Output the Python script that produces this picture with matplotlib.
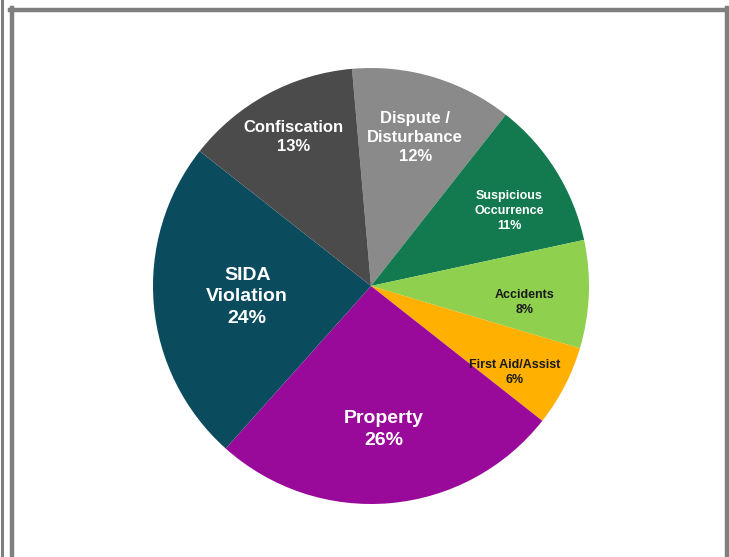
import numpy as np
import matplotlib.pyplot as plt
from matplotlib.lines import Line2D

plt.rcParams['font.family'] = ['Liberation Sans', 'DejaVu Sans']

categories = ["Dispute /\nDisturbance", "Suspicious\nOccurrence", "Accidents",
              "First Aid/Assist", "Property", "SIDA\nViolation", "Confiscation"]
shares = [12, 11, 8, 6, 26, 24, 13]
colors = ["#8a8a8a", "#127a4e", "#8fd14f", "#ffb000", "#990a9b", "#0a4b5e", "#4b4b4b"]
text_colors = ["white", "white", "#1a1a1a", "#1a1a1a", "white", "white", "white"]
font_sizes = [12, 9, 9, 9, 14, 14, 12]
label_dist = [0.71, 0.72, 0.71, 0.77, 0.66, 0.57, 0.77]
label_shift = [0, 3.5, 4, 3.5, 0, 0, 1]   # degrees, clockwise

W, H = 729, 557
fig = plt.figure(figsize=(W / 100, H / 100), dpi=100)
ax = fig.add_axes([0, 0, 1, 1])

cx, cy, R = 371, H - 286, 218
wedges, _ = ax.pie(shares, colors=colors, startangle=95, counterclock=False,
                   center=(cx, cy), radius=R, frame=True,
                   wedgeprops=dict(linewidth=0))
ax.set_xlim(0, W)
ax.set_ylim(0, H)
ax.set_aspect('equal')
ax.axis('off')

for w, name, val, tc, fs, d, s in zip(wedges, categories, shares, text_colors,
                                      font_sizes, label_dist, label_shift):
    mid = np.deg2rad((w.theta1 + w.theta2) / 2 - s)
    x = cx + d * R * np.cos(mid)
    y = cy + d * R * np.sin(mid)
    ax.text(x, y, f"{name}\n{val}%", ha='center', va='center', color=tc,
            fontsize=fs, fontweight='bold', linespacing=1.35)

# frame around the picture
gray = "#7f7f7f"
fig.add_artist(Line2D([1.5 / W, 1.5 / W], [0, 1], color=gray, lw=2.2))
fig.add_artist(Line2D([12 / W, 12 / W], [0, 1 - 8 / H], color=gray, lw=3.2))
fig.add_artist(Line2D([10 / W, 1], [1 - 10 / H, 1 - 10 / H], color=gray, lw=3.2))
fig.add_artist(Line2D([726.5 / W, 726.5 / W], [0, 1 - 8 / H], color=gray, lw=3.2))

fig.savefig("out.png", dpi=100)
